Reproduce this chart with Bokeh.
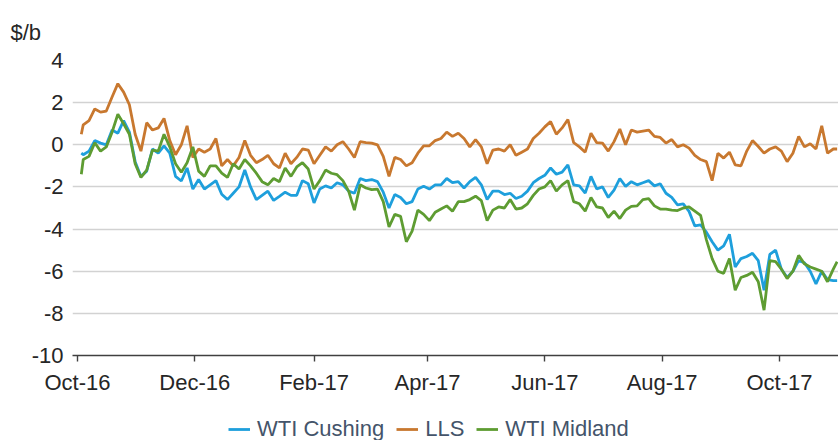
from datetime import datetime
from bokeh.plotting import figure
from bokeh.layouts import column
from bokeh.models import (ColumnDataSource, FixedTicker, DatetimeTickFormatter, Legend,
                          LegendItem, Range1d)
from bokeh.embed import file_html
from bokeh.resources import INLINE

# ---------------- data ----------------
dates = [
    "2016-10-03", "2016-10-04", "2016-10-07", "2016-10-10", "2016-10-13", "2016-10-16", "2016-10-19",
    "2016-10-22", "2016-10-25", "2016-10-28", "2016-10-31",
    "2016-11-03", "2016-11-06", "2016-11-09", "2016-11-12", "2016-11-15", "2016-11-18", "2016-11-21",
    "2016-11-24", "2016-11-27", "2016-11-30",
    "2016-12-03", "2016-12-06", "2016-12-09", "2016-12-12", "2016-12-15", "2016-12-18", "2016-12-21",
    "2016-12-24", "2016-12-27", "2016-12-30",
    "2017-01-02", "2017-01-05", "2017-01-08", "2017-01-11", "2017-01-14", "2017-01-17", "2017-01-20",
    "2017-01-23", "2017-01-26", "2017-01-29",
    "2017-02-01", "2017-02-04", "2017-02-07", "2017-02-10", "2017-02-13", "2017-02-16", "2017-02-19",
    "2017-02-22", "2017-02-25", "2017-02-28",
    "2017-03-03", "2017-03-06", "2017-03-09", "2017-03-12", "2017-03-15", "2017-03-18", "2017-03-21",
    "2017-03-24", "2017-03-27", "2017-03-30",
    "2017-04-02", "2017-04-05", "2017-04-08", "2017-04-11", "2017-04-14", "2017-04-17", "2017-04-20",
    "2017-04-23", "2017-04-26", "2017-04-29",
    "2017-05-02", "2017-05-05", "2017-05-08", "2017-05-11", "2017-05-14", "2017-05-17", "2017-05-20",
    "2017-05-23", "2017-05-26", "2017-05-29",
    "2017-06-01", "2017-06-04", "2017-06-07", "2017-06-10", "2017-06-13", "2017-06-16", "2017-06-19",
    "2017-06-22", "2017-06-25", "2017-06-28",
    "2017-07-01", "2017-07-04", "2017-07-07", "2017-07-10", "2017-07-13", "2017-07-16", "2017-07-19",
    "2017-07-22", "2017-07-25", "2017-07-28", "2017-07-31",
    "2017-08-03", "2017-08-06", "2017-08-09", "2017-08-12", "2017-08-15", "2017-08-18", "2017-08-21",
    "2017-08-24", "2017-08-27", "2017-08-30",
    "2017-09-02", "2017-09-05", "2017-09-08", "2017-09-11", "2017-09-14", "2017-09-17", "2017-09-20",
    "2017-09-23", "2017-09-26", "2017-09-29",
    "2017-10-02", "2017-10-05", "2017-10-08", "2017-10-11", "2017-10-14", "2017-10-17", "2017-10-20",
    "2017-10-23", "2017-10-26", "2017-10-29", "2017-10-31",
]

wti_cushing = [
    -0.4, -0.47, -0.3, 0.2, 0.08, 0.0, 0.7, 0.55, 1.15, 0.6, -0.8,
    -1.5, -1.25, -0.2, -0.4, -0.05, -0.4, -1.5, -1.72, -1.1, -2.1,
    -1.65, -2.1, -1.9, -1.7, -2.35, -2.6, -2.3, -2.0, -1.2, -2.0,
    -2.6, -2.4, -2.2, -2.64, -2.45, -2.25, -2.4, -2.4, -1.7, -1.85,
    -2.76, -2.1, -1.95, -2.05, -1.8, -1.9, -2.2, -2.3, -1.6, -1.7,
    -1.65, -1.75, -2.25, -3.0, -2.36, -2.5, -2.8, -2.7, -2.1, -1.97,
    -2.1, -1.9, -1.9, -1.6, -1.8, -1.75, -2.05, -1.75, -1.55, -1.9,
    -2.6, -2.2, -2.2, -2.36, -2.3, -2.55, -2.44, -2.2, -1.8, -1.6,
    -1.45, -1.1, -1.4, -1.3, -0.95, -1.9, -1.95, -2.29, -1.5, -2.1,
    -2.0, -2.5, -2.15, -1.6, -1.97, -1.75, -1.9, -1.8, -1.7, -1.95, -1.85,
    -2.3, -2.5, -2.85, -2.8, -3.16, -3.85, -3.8, -4.15, -4.6, -5.0,
    -4.8, -4.25, -5.8, -5.4, -5.3, -5.15, -5.5, -6.9, -5.2, -5.0,
    -5.9, -6.3, -6.0, -5.5, -5.6, -6.0, -6.6, -6.0, -6.4, -6.45, -6.45,
]

lls = [
    0.5, 0.95, 1.15, 1.7, 1.55, 1.6, 2.27, 2.9, 2.5, 1.9, 0.5,
    -0.3, 1.05, 0.7, 0.8, 1.25, 0.2, -0.47, 0.0, 0.9, -0.6,
    -0.2, -0.35, -0.2, 0.3, -1.0, -0.7, -1.0, -0.6, 0.2, -0.5,
    -0.85, -0.7, -0.5, -0.9, -1.1, -0.4, -0.9, -0.6, -0.2, -0.25,
    -0.9, -0.5, -0.1, -0.3, 0.0, 0.15, -0.2, -0.6, 0.15, 0.1,
    0.08, 0.0, -0.55, -1.5, -0.6, -0.7, -1.0, -0.85, -0.4, -0.05,
    -0.05, 0.2, 0.3, 0.6, 0.4, 0.55, 0.3, -0.1, 0.24, -0.1,
    -0.9, -0.25, -0.2, -0.3, 0.0, -0.5, -0.35, -0.2, 0.3, 0.55,
    0.85, 1.1, 0.5, 0.8, 1.2, 0.1, -0.1, -0.35, 0.55, 0.1,
    0.08, -0.3, 0.15, 0.75, 0.0, 0.7, 0.6, 0.65, 0.7, 0.4, 0.35,
    0.08, 0.25, -0.1, 0.0, -0.16, -0.5, -0.7, -0.8, -1.7, -0.4,
    -0.63, -0.35, -0.95, -1.0, -0.3, 0.2, -0.08, -0.4, -0.2, -0.1,
    -0.3, -0.8, -0.4, 0.4, -0.1, 0.05, -0.2, 0.9, -0.4, -0.2, -0.2,
]

wti_midland = [
    -1.4, -0.7, -0.55, 0.1, -0.3, -0.1, 0.6, 1.45, 1.0, 0.5, -0.9,
    -1.55, -1.2, -0.25, -0.3, 0.5, -0.1, -0.9, -1.3, -0.85, -0.1,
    -1.25, -1.5, -1.0, -1.0, -1.35, -1.55, -0.9, -1.15, -0.7, -1.0,
    -1.35, -1.75, -1.9, -1.6, -1.75, -1.1, -1.5, -1.05, -0.85, -1.15,
    -2.1, -1.7, -1.2, -1.35, -1.42, -1.7, -2.2, -3.1, -1.9, -2.05,
    -2.13, -2.1, -2.7, -3.9, -3.3, -3.4, -4.6, -4.1, -3.1, -3.3,
    -3.6, -3.2, -3.05, -2.9, -3.15, -2.7, -2.7, -2.6, -2.44, -2.65,
    -3.6, -3.1, -2.95, -3.0, -2.6, -3.05, -3.0, -2.8, -2.4, -2.1,
    -2.0, -1.7, -2.2, -1.9, -1.7, -2.7, -2.8, -3.15, -2.5, -2.95,
    -3.0, -3.45, -3.15, -3.5, -3.1, -2.92, -2.9, -2.6, -2.55, -2.9, -3.05,
    -3.05, -3.1, -3.12, -3.0, -2.95, -3.15, -3.35, -4.5, -5.4, -6.0,
    -6.1, -5.4, -6.9, -6.3, -6.2, -6.05, -6.5, -7.85, -5.5, -5.55,
    -5.9, -6.35, -6.0, -5.25, -5.65, -5.8, -5.9, -6.0, -6.5, -5.9, -5.55,
]

series_names = ["WTI Cushing", "LLS", "WTI Midland"]
y_ticks = [-10, -8, -6, -4, -2, 0, 2, 4]
x_tick_dates = ["2016-10-01", "2016-12-01", "2017-02-01", "2017-04-01",
                "2017-06-01", "2017-08-01", "2017-10-01"]
unit_label = "$/b"

# ---------------- styling ----------------
FONT = "Liberation Sans"
TXT = "#262626"
COLORS = ["#1E9FDC", "#C8782F", "#5E9C32"]
LW = 2.8

x = [datetime.fromisoformat(d) for d in dates]
src = ColumnDataSource(dict(x=x, cushing=wti_cushing, lls=lls, midland=wti_midland))

EPOCH = datetime(1970, 1, 1)
def ms(d):
    return (d - EPOCH).total_seconds() * 1000.0

p = figure(width=838, height=412, x_axis_type="datetime",
           x_range=Range1d(datetime(2016, 9, 28, 10), datetime(2017, 10, 31, 17)),
           y_range=Range1d(-10, 4),
           output_backend="svg", toolbar_location=None,
           min_border_left=72, min_border_right=0, min_border_top=60, min_border_bottom=57)
p.outline_line_color = None
p.background_fill_color = "white"
p.border_fill_color = "white"

# unit label as a left aligned title above the frame
p.title.text = unit_label
p.title.align = "left"
p.title.offset = -62
p.title.standoff = 32
p.title.text_font = FONT
p.title.text_font_size = "22px"
p.title.text_font_style = "normal"
p.title.text_color = TXT

p.line("x", "cushing", source=src, line_color=COLORS[0], line_width=LW)
p.line("x", "lls", source=src, line_color=COLORS[1], line_width=LW)
p.line("x", "midland", source=src, line_color=COLORS[2], line_width=LW)

# grid
p.xgrid.grid_line_color = None
p.ygrid.grid_line_color = "#D2D2D2"
p.ygrid.grid_line_width = 1.6
p.ygrid.ticker = FixedTicker(ticks=y_ticks)

# y axis
p.yaxis.ticker = FixedTicker(ticks=y_ticks)
p.yaxis.major_label_overrides = {v: str(v) for v in y_ticks}
p.yaxis.axis_line_color = None
p.yaxis.major_tick_line_color = None
p.yaxis.minor_tick_line_color = None
p.yaxis.major_label_text_font = FONT
p.yaxis.major_label_text_font_size = "22px"
p.yaxis.major_label_text_color = TXT
p.yaxis.major_label_standoff = 3

# x axis
p.xaxis.ticker = FixedTicker(ticks=[ms(datetime.fromisoformat(d)) for d in x_tick_dates])
fmt = "%b-%y"
p.xaxis.formatter = DatetimeTickFormatter(milliseconds=fmt, seconds=fmt, minsec=fmt, minutes=fmt,
                                          hourmin=fmt, hours=fmt, days=fmt, months=fmt, years=fmt)
p.xaxis.axis_line_color = "#404040"
p.xaxis.axis_line_width = 1.6
p.xaxis.major_tick_line_color = "#404040"
p.xaxis.major_tick_line_width = 1.4
p.xaxis.major_tick_in = 0
p.xaxis.major_tick_out = 6
p.xaxis.minor_tick_line_color = None
p.xaxis.major_label_text_font = FONT
p.xaxis.major_label_text_font_size = "22px"
p.xaxis.major_label_text_color = TXT
p.xaxis.major_label_standoff = 8

# ---------------- legend strip below the chart ----------------
lg = figure(width=838, height=28, x_range=Range1d(0, 1), y_range=Range1d(0, 1),
            output_backend="svg", toolbar_location=None, min_border=0)
lg.axis.visible = False
lg.grid.grid_line_color = None
lg.outline_line_color = None
lg.background_fill_color = "white"
lg.border_fill_color = "white"
# key glyphs only: their points lie outside the strip's range, so only the legend shows them
key_renderers = [lg.line(x=[5, 6], y=[5, 6], line_color=c, line_width=LW) for c in COLORS]
legend = Legend(items=[LegendItem(label=n, renderers=[r]) for n, r in zip(series_names, key_renderers)],
                location=(156, -2), orientation="horizontal",
                border_line_color=None, background_fill_alpha=0,
                label_text_font=FONT, label_text_font_size="22px", label_text_color="#44546A",
                glyph_width=22, glyph_height=20, label_standoff=7, spacing=12,
                padding=0, margin=0)
lg.add_layout(legend)

layout = column(p, lg, spacing=0)
open("out.html", "w").write(file_html(layout, INLINE))
